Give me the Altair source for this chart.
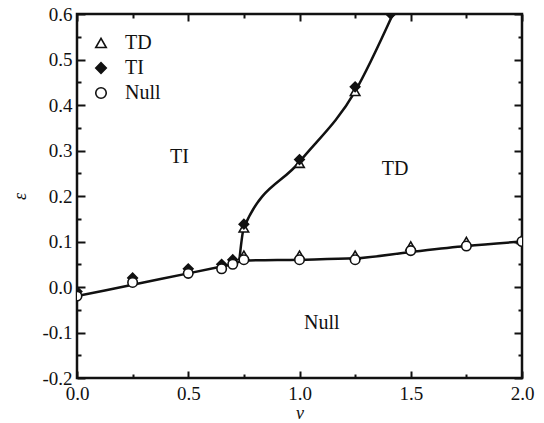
import altair as alt
import pandas as pd

# ---- data ----
lower_v = [0.0, 0.25, 0.5, 0.65, 0.7, 0.75, 1.0, 1.25, 1.5, 1.75, 2.0]
lower_e = [-0.02, 0.005, 0.03, 0.045, 0.05, 0.058, 0.06, 0.063, 0.077, 0.09, 0.1]
upper_v = [0.73, 0.75, 1.0, 1.25, 1.42]
upper_e = [0.06, 0.13, 0.275, 0.43, 0.6]

td_v = [0.75, 0.75, 1.0, 1.25, 1.0, 1.25, 1.5, 1.75, 2.0]
td_e = [0.07, 0.13, 0.272, 0.43, 0.07, 0.07, 0.09, 0.10, 0.105]
ti_v = [0.0, 0.25, 0.5, 0.65, 0.7, 0.75, 1.0, 1.25, 1.41]
ti_e = [-0.01, 0.02, 0.04, 0.05, 0.06, 0.138, 0.28, 0.44, 0.6]
null_v = [0.0, 0.25, 0.5, 0.65, 0.7, 0.75, 1.0, 1.25, 1.5, 1.75, 2.0]
null_e = [-0.02, 0.01, 0.03, 0.04, 0.05, 0.06, 0.06, 0.06, 0.08, 0.09, 0.1]

series_names = ["TD", "TI", "Null"]
series_shapes = ["triangle-up", "diamond", "circle"]
series_fills = ["white", "#111", "white"]

label_text = ["TI", "TD", "Null"]
label_v = [0.46, 1.43, 1.10]
label_e = [0.285, 0.26, -0.08]

x_ticks = [0.0, 0.5, 1.0, 1.5, 2.0]
y_ticks = [-0.2, -0.1, 0.0, 0.1, 0.2, 0.3, 0.4, 0.5, 0.6]
x_minor = [0.0, 0.25, 0.5, 0.75, 1.0, 1.25, 1.5, 1.75, 2.0]
y_minor = [-0.2, -0.15, -0.1, -0.05, 0.0, 0.05, 0.1, 0.15, 0.2, 0.25, 0.3,
           0.35, 0.4, 0.45, 0.5, 0.55, 0.6]

# ---- tables ----
lines = pd.DataFrame(
    {"v": lower_v + upper_v, "e": lower_e + upper_e,
     "curve": ["lower"] * len(lower_v) + ["upper"] * len(upper_v)}
)
pts = pd.DataFrame(
    {"v": td_v + ti_v + null_v, "e": td_e + ti_e + null_e,
     "series": ["TD"] * len(td_v) + ["TI"] * len(ti_v) + ["Null"] * len(null_v)}
)
labels = pd.DataFrame({"v": label_v, "e": label_e, "t": label_text})

FONT = "Liberation Serif"
W, H = 445, 364
XD = [0, 2]
YD = [-0.2, 0.6]

xs = alt.Scale(domain=XD, nice=False, zero=False)
ys = alt.Scale(domain=YD, nice=False, zero=False)

LBL = "replace(format(datum.value, '.1f'), '\u2212', '-')"

x_main = alt.X("v:Q", scale=xs, title="v",
               axis=alt.Axis(values=x_ticks, labelExpr=LBL, ticks=False, domain=False,
                             grid=False, labelFont=FONT, labelFontSize=19, labelColor="#111",
                             labelPadding=6, labelFlush=False, titleFont=FONT,
                             titleFontStyle="italic", titleFontWeight="normal",
                             titleFontSize=18, titleColor="#111", titlePadding=1))
y_main = alt.Y("e:Q", scale=ys, title="ε",
               axis=alt.Axis(values=y_ticks, labelExpr=LBL, ticks=False, domain=False,
                             grid=False, labelFont=FONT, labelFontSize=19, labelColor="#111",
                             labelPadding=5, labelFlush=False, titleFont=FONT,
                             titleFontStyle="italic", titleFontWeight="normal",
                             titleFontSize=18, titleColor="#111", titlePadding=12))

line_layer = alt.Chart(lines).mark_line(
    color="#111", strokeWidth=2.5, interpolate="monotone", clip=True
).encode(x=x_main, y=y_main, detail="curve:N")

leg = alt.Legend(title=None, orient="none", legendX=14, legendY=19,
                 labelFont=FONT, labelFontSize=20, labelColor="#111",
                 symbolSize=110, symbolStrokeWidth=1.6, labelOffset=14,
                 rowPadding=5, padding=0)

pt_layer = alt.Chart(pts).mark_point(
    size=90, strokeWidth=1.6, filled=True, opacity=1, clip=True
).encode(
    x=alt.X("v:Q", scale=xs),
    y=alt.Y("e:Q", scale=ys),
    shape=alt.Shape("series:N", scale=alt.Scale(domain=series_names, range=series_shapes),
                    legend=leg),
    fill=alt.Fill("series:N", scale=alt.Scale(domain=series_names, range=series_fills),
                  legend=leg),
    stroke=alt.Stroke("series:N", scale=alt.Scale(domain=series_names,
                                                  range=["#111", "#111", "#111"]),
                      legend=leg),
)

txt_layer = alt.Chart(labels).mark_text(
    font=FONT, fontSize=20, color="#111", align="center", baseline="middle"
).encode(x=alt.X("v:Q", scale=xs), y=alt.Y("e:Q", scale=ys), text="t:N")

main = alt.layer(line_layer, pt_layer, txt_layer)

xcond = {"condition": {"test": "round(datum.value*4) % 2 == 0", "value": 7}, "value": 4}
ycond = {"condition": {"test": "round(datum.value*20) % 2 == 0", "value": 8}, "value": 4}


def tick_layer(xorient, yorient):
    return alt.Chart(pts).mark_point(opacity=0).encode(
        x=alt.X("v:Q", scale=alt.Scale(domain=XD, nice=False, zero=False), title=None,
                axis=alt.Axis(orient=xorient, offset=-H, values=x_minor, labels=False,
                              domain=False, grid=False, ticks=True, tickColor="#111",
                              tickWidth=2, tickSize=xcond)),
        y=alt.Y("e:Q", scale=alt.Scale(domain=YD, nice=False, zero=False), title=None,
                axis=alt.Axis(orient=yorient, offset=-W, values=y_minor, labels=False,
                              domain=False, grid=False, ticks=True, tickColor="#111",
                              tickWidth=2, tickSize=ycond)),
    )


# top-orient axis moved to bottom edge -> ticks point up (inward); etc.
ticks_a = tick_layer("top", "right")
ticks_b = tick_layer("bottom", "left")

chart = alt.layer(main, ticks_a, ticks_b).resolve_scale(
    x="independent", y="independent"
).resolve_axis(x="independent", y="independent").properties(
    width=W, height=H,
    autosize=alt.AutoSizeParams(type="none"),
    padding={"left": 77, "top": 14, "right": 22, "bottom": 45},
    background="white",
).configure(font=FONT).configure_text(font=FONT).configure_view(
    stroke="#111", strokeWidth=2.5)

chart.save("out.html", embed_options={"renderer": "svg", "actions": False})
